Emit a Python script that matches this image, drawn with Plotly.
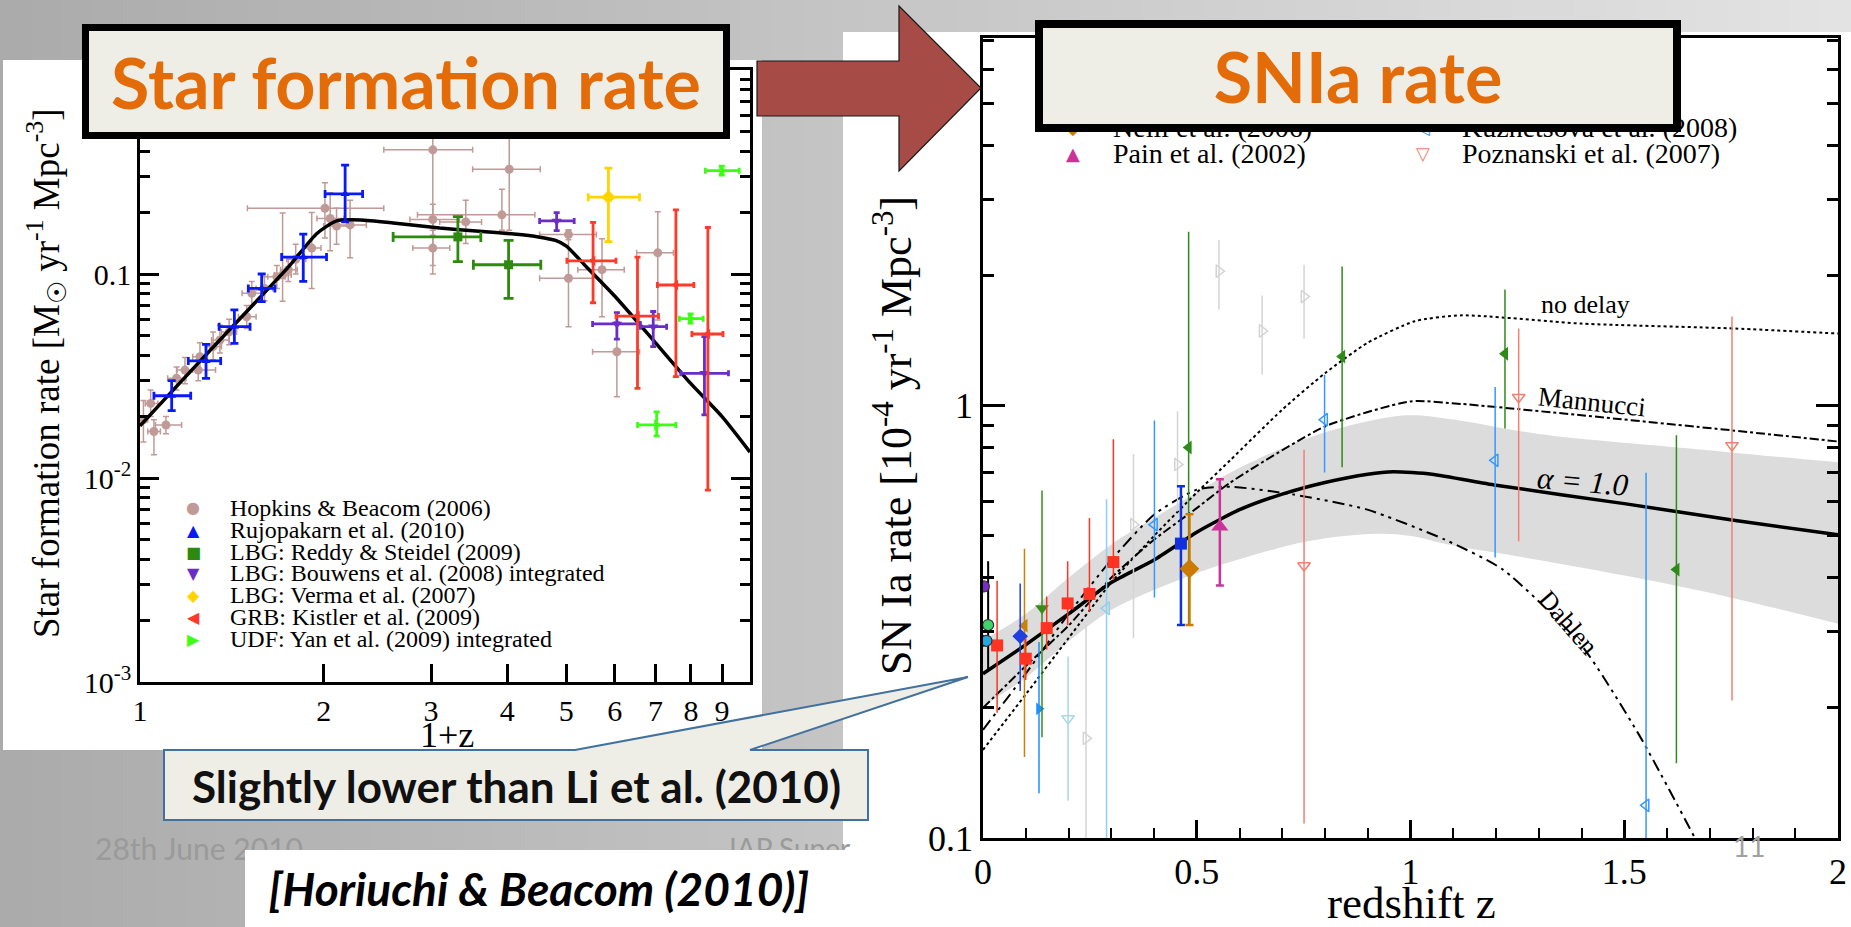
import numpy as np
import plotly.graph_objects as go

W, H = 1851, 927
SERIF = "Liberation Serif"
SANS = "Lato"

# ---------------- LEFT PANEL : cosmic star formation rate vs 1+z ----------------
sfr_fit_1pz = [1.0, 1.25, 1.5, 1.75, 1.95, 2.1, 2.3, 2.6, 3.1, 3.6, 4.1, 4.5, 4.8, 5.0, 5.4, 6.0, 7.0, 8.0, 9.0, 10.0]
sfr_fit_rho = [0.018, 0.037, 0.066, 0.108, 0.158, 0.182, 0.184, 0.178, 0.168, 0.162, 0.157, 0.152, 0.146, 0.137, 0.108, 0.078, 0.046, 0.029, 0.020, 0.0134]

hb_1pz = [1.013, 1.054, 1.103, 1.041, 1.148, 1.185, 1.246, 1.254, 1.318, 1.352, 1.40, 1.496, 1.525, 1.60, 1.676, 1.713, 1.75, 1.80, 1.912, 2.01, 2.05, 2.10, 2.21, 3.02, 3.02, 3.02, 3.42, 3.92, 4.03, 5.04, 5.04, 5.72, 7.06, 6.05]
hb_rho = [0.0193, 0.0169, 0.0182, 0.0232, 0.0308, 0.0338, 0.0338, 0.0393, 0.0441, 0.0475, 0.052, 0.0617, 0.0804, 0.085, 0.097, 0.099, 0.105, 0.118, 0.134, 0.21, 0.187, 0.172, 0.174, 0.406, 0.185, 0.134, 0.180, 0.195, 0.326, 0.156, 0.0953, 0.105, 0.127, 0.0416]
hb_1pz_lo = [1.00, 1.03, 1.06, 1.02, 1.11, 1.15, 1.18, 1.22, 1.28, 1.31, 1.36, 1.45, 1.47, 1.55, 1.62, 1.66, 1.70, 1.74, 1.85, 1.50, 1.95, 2.00, 2.10, 2.51, 2.77, 2.80, 3.10, 2.85, 3.51, 4.52, 4.52, 5.22, 6.52, 5.52]
hb_1pz_hi = [1.03, 1.08, 1.17, 1.07, 1.19, 1.22, 1.33, 1.29, 1.36, 1.40, 1.44, 1.55, 1.60, 1.65, 1.73, 1.77, 1.81, 1.87, 1.98, 2.51, 2.16, 2.20, 2.35, 3.51, 3.34, 3.22, 3.63, 4.44, 4.53, 5.60, 5.52, 6.22, 7.49, 6.59]
hb_rho_lo = [0.0150, 0.0130, 0.0165, 0.020, 0.027, 0.029, 0.030, 0.034, 0.038, 0.041, 0.045, 0.054, 0.070, 0.074, 0.085, 0.0735, 0.092, 0.100, 0.085, 0.15, 0.13, 0.14, 0.12, 0.11, 0.155, 0.10, 0.141, 0.164, 0.164, 0.147, 0.0552, 0.0618, 0.0595, 0.025]
hb_rho_hi = [0.0240, 0.0193, 0.0200, 0.027, 0.035, 0.039, 0.038, 0.046, 0.052, 0.056, 0.060, 0.070, 0.092, 0.097, 0.110, 0.199, 0.12, 0.14, 0.20, 0.28, 0.25, 0.21, 0.23, 0.60, 0.22, 0.164, 0.23, 0.26, 0.50, 0.165, 0.164, 0.149, 0.202, 0.0584]

rujo_1pz = [1.127, 1.283, 1.428, 1.583, 1.852, 2.169]
rujo_rho = [0.0253, 0.0375, 0.0552, 0.085, 0.121, 0.247]
rujo_1pz_lo = [1.054, 1.200, 1.348, 1.505, 1.707, 2.011]
rujo_1pz_hi = [1.211, 1.356, 1.515, 1.664, 2.022, 2.317]
rujo_rho_lo = [0.0214, 0.0308, 0.0457, 0.0732, 0.092, 0.180]
rujo_rho_hi = [0.030, 0.0452, 0.0667, 0.100, 0.157, 0.342]

reddy_1pz = [3.32, 4.02]
reddy_rho = [0.152, 0.111]
reddy_1pz_lo = [2.60, 3.52]
reddy_1pz_hi = [3.62, 4.54]
reddy_rho_lo = [0.115, 0.076]
reddy_rho_hi = [0.191, 0.146]

bouwens_1pz = [4.82, 6.05, 6.94, 8.42]
bouwens_rho = [0.182, 0.0569, 0.0552, 0.0326]
bouwens_1pz_lo = [4.52, 5.52, 6.61, 7.70]
bouwens_1pz_hi = [5.15, 6.61, 7.30, 9.22]
bouwens_rho_lo = [0.163, 0.0479, 0.0441, 0.0204]
bouwens_rho_hi = [0.200, 0.0646, 0.0655, 0.0493]

verma_1pz = [5.86]
verma_rho = [0.238]
verma_1pz_lo = [5.43]
verma_1pz_hi = [6.59]
verma_rho_lo = [0.144]
verma_rho_hi = [0.330]

kistler_1pz = [5.53, 6.54, 7.56, 8.53]
kistler_rho = [0.116, 0.0622, 0.0883, 0.0508]
kistler_1pz_lo = [5.01, 6.03, 7.05, 8.03]
kistler_1pz_hi = [6.03, 7.08, 8.09, 9.03]
kistler_rho_lo = [0.0723, 0.0275, 0.0314, 0.00873]
kistler_rho_hi = [0.179, 0.121, 0.206, 0.169]

yan_1pz = [7.03, 7.99, 8.99]
yan_rho = [0.0182, 0.0604, 0.321]
yan_1pz_lo = [6.54, 7.66, 8.45]
yan_1pz_hi = [7.56, 8.38, 9.60]
yan_rho_lo = [0.0161, 0.0574, 0.305]
yan_rho_hi = [0.0211, 0.0637, 0.338]

left_legend_labels = ["Hopkins & Beacom (2006)", "Rujopakarn et al. (2010)", "LBG: Reddy & Steidel (2009)",
                      "LBG: Bouwens et al. (2008) integrated", "LBG: Verma et al. (2007)",
                      "GRB: Kistler et al. (2009)", "UDF: Yan et al. (2009) integrated"]

left_x_ticks = [1, 2, 3, 4, 5, 6, 7, 8, 9]
left_x_ticktext = ["1", "2", "3", "4", "5", "6", "7", "8", "9"]
left_y_ticks = [0.001, 0.01, 0.1]
left_y_ticktext = ["10<sup>-3</sup>", "10<sup>-2</sup>", "0.1"]

# ---------------- RIGHT PANEL : SN Ia rate vs redshift ----------------
alpha1_z = [0.0, 0.1, 0.2, 0.3, 0.4, 0.5, 0.6, 0.7, 0.8, 0.9, 0.96, 1.05, 1.2, 1.5, 1.76, 2.0]
alpha1_rate = [0.240, 0.280, 0.330, 0.390, 0.440, 0.510, 0.575, 0.625, 0.665, 0.695, 0.704, 0.695, 0.655, 0.594, 0.543, 0.503]
band_z = [0.0, 0.1, 0.2, 0.3, 0.4, 0.5, 0.578, 0.76, 0.92, 1.0, 1.1, 1.3, 1.67, 2.0]
band_upper = [0.287, 0.33, 0.40, 0.478, 0.55, 0.63, 0.70, 0.843, 0.93, 0.951, 0.93, 0.861, 0.794, 0.740]
band_lower = [0.202, 0.235, 0.285, 0.337, 0.375, 0.41, 0.435, 0.486, 0.506, 0.500, 0.475, 0.44, 0.375, 0.313]
nodelay_z = [0.0, 0.1, 0.2, 0.3, 0.4, 0.5, 0.578, 0.7, 0.8, 0.9, 1.01, 1.12, 1.4, 1.76, 2.0]
nodelay_rate = [0.160, 0.215, 0.29, 0.39, 0.50, 0.63, 0.748, 0.98, 1.19, 1.40, 1.57, 1.62, 1.55, 1.51, 1.47]
mannucci_z = [0.0, 0.1, 0.2, 0.3, 0.4, 0.5, 0.578, 0.8, 1.0, 1.12, 1.4, 1.75, 2.0]
mannucci_rate = [0.20, 0.25, 0.31, 0.40, 0.49, 0.58, 0.664, 0.896, 1.024, 1.01, 0.951, 0.878, 0.827]
dahlen_z = [0.0, 0.1, 0.2, 0.3, 0.4, 0.5, 0.578, 0.724, 0.897, 1.079, 1.216, 1.399, 1.535, 1.663]
dahlen_rate = [0.178, 0.24, 0.33, 0.44, 0.56, 0.64, 0.65, 0.624, 0.576, 0.491, 0.418, 0.280, 0.173, 0.101]

dilday_z = [0.033, 0.100, 0.149, 0.198, 0.249, 0.305]
dilday_rate = [0.279, 0.260, 0.306, 0.349, 0.367, 0.435]
dilday_lo = [0.195, 0.232, 0.273, 0.311, 0.334, 0.396]
dilday_hi = [0.394, 0.290, 0.362, 0.437, 0.550, 0.837]

dahlen08_z = [0.481, 0.840, 1.221, 1.622]
dahlen08_rate = [0.801, 1.30, 1.32, 0.418]
dahlen08_lo = [0.31, 0.721, 0.886, 0.149]
dahlen08_hi = [2.53, 2.10, 1.86, 0.855]

neill_z = [0.483]
neill_rate = [0.420]
neill_lo = [0.311]
neill_hi = [0.561]

kuz_z = [0.401, 0.799, 1.198, 1.551]
kuz_rate = [0.531, 0.929, 0.748, 0.119]
kuz_lo = [0.36, 0.701, 0.446, 0.08]
kuz_hi = [0.925, 1.18, 1.105, 0.70]

pain_z = [0.554]
pain_rate = [0.525]
pain_lo = [0.384]
pain_hi = [0.676]

pozn_z = [0.751, 1.253, 1.752]
pozn_rate = [0.427, 1.047, 0.810]
pozn_lo = [0.108, 0.486, 0.208]
pozn_hi = [0.791, 1.51, 1.61]

tonry_z = [0.241, 0.352, 0.455, 0.552, 0.653, 0.751]
tonry_rate = [0.170, 0.531, 0.732, 2.05, 1.49, 1.79]
tonry_lo = [0.08, 0.290, 0.57, 1.67, 1.18, 1.43]
tonry_hi = [0.311, 0.773, 0.972, 2.42, 1.80, 2.12]

blanc_z = [0.087]; blanc_rate = [0.293]; blanc_lo = [0.219]; blanc_hi = [0.388]
sullivan_z = [0.463]; sullivan_rate = [0.480]; sullivan_lo = [0.311]; sullivan_hi = [0.652]
madgwick_z = [0.097]; madgwick_rate = [0.310]; madgwick_lo = [0.154]; madgwick_hi = [0.467]
botticella_z = [0.138]; botticella_rate = [0.340]; botticella_lo = [0.171]; botticella_hi = [0.637]
hardin_z = [0.131]; hardin_rate = [0.199]; hardin_lo = [0.127]; hardin_hi = [0.284]
horesh_z = [0.199]; horesh_rate = [0.189]; horesh_lo = [0.122]; horesh_hi = [0.263]
kuzlow_z = [0.289]; kuzlow_rate = [0.340]; kuzlow_lo = [0.08]; kuzlow_hi = [0.608]
local_z = [0.002, 0.012, 0.0, 0.008]
local_rate = [0.382, 0.311, 0.286, 0.286]
local_colors = ["#7B2CC4", "#3FD46A", "#22A8DE", "#22A8DE"]
local_lo = [0.382, 0.245, 0.286, 0.286]
local_hi = [0.382, 0.437, 0.286, 0.286]

# legend rows visible below the title box
right_legend = [("◆", "#CC7A00", "Neill et al. (2006)"), ("◁", "#3399FF", "Kuznetsova et al. (2008)"),
                ("▲", "#CC3399", "Pain et al. (2002)"), ("▽", "#F08070", "Poznanski et al. (2007)")]

right_x_ticks = [0, 0.5, 1, 1.5, 2]
right_x_ticktext = ["0", "0.5", "1", "1.5", "2"]
right_y_ticks = [0.1, 1]
right_y_ticktext = ["0.1", "1"]
right_y_minor = [0.2, 0.3, 0.4, 0.5, 0.6, 0.7, 0.8, 0.9, 2, 3, 4, 5, 6, 7]


def px(x):
    return x / W


def py(y):
    return 1 - y / H


def path(points):
    return "M " + " L ".join(f"{px(x):.5f},{py(y):.5f}" for x, y in points) + " Z"


fig = go.Figure()


def diff(a, b):
    return [abs(x - y) for x, y in zip(a, b)]


def left_series(x, y, xlo, xhi, ylo, yhi, color, symbol, size, thick, cap, name):
    fig.add_trace(go.Scatter(
        x=x, y=y, mode="markers", name=name, xaxis="x", yaxis="y",
        marker=dict(symbol=symbol, size=size, color=color, line=dict(width=0)),
        error_x=dict(type="data", symmetric=False, array=diff(xhi, x), arrayminus=diff(x, xlo),
                     color=color, thickness=thick, width=cap),
        error_y=dict(type="data", symmetric=False, array=diff(yhi, y), arrayminus=diff(y, ylo),
                     color=color, thickness=thick, width=cap)))


left_series(hb_1pz, hb_rho, hb_1pz_lo, hb_1pz_hi, hb_rho_lo, hb_rho_hi, "#BF9A96", "circle", 9, 1.5, 3, left_legend_labels[0])
fig.add_trace(go.Scatter(x=sfr_fit_1pz, y=sfr_fit_rho, mode="lines", xaxis="x", yaxis="y",
                         line=dict(color="black", width=3.5, shape="spline", smoothing=0.6), name="fit"))
left_series(rujo_1pz, rujo_rho, rujo_1pz_lo, rujo_1pz_hi, rujo_rho_lo, rujo_rho_hi, "#0A1AF5", "triangle-up", 8, 2.8, 4, left_legend_labels[1])
left_series(reddy_1pz, reddy_rho, reddy_1pz_lo, reddy_1pz_hi, reddy_rho_lo, reddy_rho_hi, "#2E8A0E", "square", 9, 2.8, 5, left_legend_labels[2])
left_series(bouwens_1pz, bouwens_rho, bouwens_1pz_lo, bouwens_1pz_hi, bouwens_rho_lo, bouwens_rho_hi, "#6B2DC8", "triangle-down", 9, 2.8, 3, left_legend_labels[3])
left_series(verma_1pz, verma_rho, verma_1pz_lo, verma_1pz_hi, verma_rho_lo, verma_rho_hi, "#FFD400", "diamond", 11, 2.8, 4, left_legend_labels[4])
left_series(kistler_1pz, kistler_rho, kistler_1pz_lo, kistler_1pz_hi, kistler_rho_lo, kistler_rho_hi, "#FF3A2A", "triangle-left", 9, 2.8, 3, left_legend_labels[5])
left_series(yan_1pz, yan_rho, yan_1pz_lo, yan_1pz_hi, yan_rho_lo, yan_rho_hi, "#3CFF14", "triangle-right", 10, 2.8, 3, left_legend_labels[6])

# ---- right panel ----
fig.add_trace(go.Scatter(x=band_z, y=band_lower, mode="lines", line=dict(width=0, color="#DCDCDC", shape="spline"),
                         xaxis="x2", yaxis="y2", hoverinfo="skip"))
fig.add_trace(go.Scatter(x=band_z, y=band_upper, mode="lines", line=dict(width=0, color="#DCDCDC", shape="spline"),
                         fill="tonexty", fillcolor="#DCDCDC", xaxis="x2", yaxis="y2", hoverinfo="skip"))
fig.add_trace(go.Scatter(x=nodelay_z, y=nodelay_rate, mode="lines",
                         line=dict(color="black", width=2, dash="dot", shape="spline", smoothing=0.6),
                         xaxis="x2", yaxis="y2", name="no delay"))
fig.add_trace(go.Scatter(x=mannucci_z, y=mannucci_rate, mode="lines",
                         line=dict(color="black", width=2, dash="dashdot", shape="spline", smoothing=0.6),
                         xaxis="x2", yaxis="y2", name="Mannucci"))
fig.add_trace(go.Scatter(x=dahlen_z, y=dahlen_rate, mode="lines",
                         line=dict(color="black", width=2, dash="12px,5px,3px,5px,3px,5px", shape="spline", smoothing=0.6),
                         xaxis="x2", yaxis="y2", name="Dahlen"))
fig.add_trace(go.Scatter(x=alpha1_z, y=alpha1_rate, mode="lines",
                         line=dict(color="black", width=3.5, shape="spline", smoothing=0.6),
                         xaxis="x2", yaxis="y2", name="alpha=1.0"))


def right_series(x, y, lo, hi, color, symbol, size, thick=1.5, cap=0, name="", mline=0):
    fig.add_trace(go.Scatter(
        x=x, y=y, mode="markers", name=name, xaxis="x2", yaxis="y2",
        marker=dict(symbol=symbol, size=size, color=color, line=dict(width=mline, color=color)),
        error_y=dict(type="data", symmetric=False, array=diff(hi, y), arrayminus=diff(y, lo),
                     color=color, thickness=thick, width=cap)))


right_series(tonry_z, tonry_rate, tonry_lo, tonry_hi, "#D4D4D4", "triangle-right-open", 11, name="Tonry / Barris", mline=1.5)
right_series(kuzlow_z, kuzlow_rate, kuzlow_lo, kuzlow_hi, "#8FCFF0", "triangle-left-open", 11, name="low-z", mline=1.5)
right_series(horesh_z, horesh_rate, horesh_lo, horesh_hi, "#A9D8E4", "triangle-down-open", 11, name="Horesh", mline=1.5)
right_series(pozn_z, pozn_rate, pozn_lo, pozn_hi, "#F08070", "triangle-down-open", 11, name="Poznanski et al. (2007)", mline=1.5)
right_series(kuz_z, kuz_rate, kuz_lo, kuz_hi, "#3399FF", "triangle-left-open", 11, name="Kuznetsova et al. (2008)", mline=1.5)
right_series(dahlen08_z, dahlen08_rate, dahlen08_lo, dahlen08_hi, "#2E8B1A", "triangle-left", 12, name="Dahlen et al. (2008)")
right_series(hardin_z, hardin_rate, hardin_lo, hardin_hi, "#1E8FFF", "triangle-right", 11, name="Hardin")
right_series(botticella_z, botticella_rate, botticella_lo, botticella_hi, "#3A8C1A", "triangle-down", 12, name="Botticella")
right_series(madgwick_z, madgwick_rate, madgwick_lo, madgwick_hi, "#C8820A", "triangle-left", 12, name="Madgwick")
right_series(blanc_z, blanc_rate, blanc_lo, blanc_hi, "#1F3FE0", "diamond", 12, name="Blanc")
right_series(dilday_z, dilday_rate, dilday_lo, dilday_hi, "#FF3322", "square", 12, name="Dilday et al. (2010)")
right_series(sullivan_z, sullivan_rate, sullivan_lo, sullivan_hi, "#1030E0", "square", 12, thick=2.5, cap=4, name="Sullivan")
right_series(neill_z, neill_rate, neill_lo, neill_hi, "#CC7A00", "diamond", 15, thick=2.5, cap=4, name="Neill et al. (2006)")
right_series(pain_z, pain_rate, pain_lo, pain_hi, "#CC3399", "triangle-up", 15, thick=2.5, cap=4, name="Pain et al. (2002)")
fig.add_trace(go.Scatter(
    x=local_z, y=local_rate, mode="markers", xaxis="x2", yaxis="y2", name="local",
    marker=dict(symbol="circle", size=11, color=local_colors, line=dict(width=1.2, color="#333333")),
    error_y=dict(type="data", symmetric=False, array=diff(local_hi, local_rate), arrayminus=diff(local_rate, local_lo),
                 color="black", thickness=2, width=0)))

# ---------------- layout ----------------
annotations = []


def ann(x, y, text, size, color="black", family=SERIF, xanchor="center", yanchor="middle", angle=0, **kw):
    d = dict(x=px(x), y=py(y), xref="paper", yref="paper", text=text, showarrow=False,
             font=dict(size=size, color=color, family=family), xanchor=xanchor, yanchor=yanchor,
             textangle=angle)
    d.update(kw)
    annotations.append(d)


# axis titles
ann(46, 373, "Star formation rate [M<sub>☉</sub> yr<sup>-1</sup> Mpc<sup>-3</sup>]", 37, angle=-90)
ann(447, 735, "1+z", 36)
ann(893, 436, "SN Ia rate [10<sup>-4</sup> yr<sup>-1</sup> Mpc<sup>-3</sup>]", 44, angle=-90)
ann(1411, 903, "redshift z", 45)

# curve labels
ann(1585, 304, "no delay", 26)
ann(1592, 402, "Mannucci", 27, angle=6)
ann(1583, 481, "<i>α = 1.0</i>", 31, angle=5)
ann(1568, 622, "Dahlen", 26, angle=49)

# left legend
left_sym = [("●", "#BF9A96"), ("▲", "#0A1AF5"), ("■", "#2E8A0E"), ("▼", "#6B2DC8"),
            ("◆", "#FFD400"), ("◀", "#FF3A2A"), ("▶", "#3CFF14")]
row_y = [508, 530, 552, 573, 595, 617, 639]
for (s, c), lab, yy in zip(left_sym, left_legend_labels, row_y):
    ann(193, yy, s, 16, color=c, family="DejaVu Sans")
    ann(228, yy, lab, 24, xanchor="left")

# right legend (upper row partly hidden under the title box)
r_rows = [128, 153]
for i, (s, c, lab) in enumerate(right_legend):
    r, col = divmod(i, 2)
    ann([1073, 1423][col], r_rows[r], s, 18, color=c, family="DejaVu Sans")
    ann([1111, 1460][col], r_rows[r], lab, 28, xanchor="left")

# footers
ann(93, 848, "28th June 2010", 30, color="#9A9A9A", family=SANS, xanchor="left")
ann(727, 848, "IAP Super", 28, color="#9A9A9A", family=SANS, xanchor="left")
ann(1749, 846, "11", 28, color="#A0A0A0", family=SANS)

# reference box (white box that also hides the end of the footer date)
ann(546, 888.5, "\u00a0\u00a0<b><i>[Horiuchi &amp; Beacom (2010)]</i></b>", 46, family=SANS,
    bgcolor="white", width=602, height=77, borderwidth=0, borderpad=0, align="left")

# callout text
ann(516, 786, "<b>Slightly lower than Li et al. (2010)</b>", 44, color="#111111", family=SANS)

# title boxes
ann(406, 81.5, "<b>Star formation rate</b>", 70, color="#E36C09", family=SANS,
    bgcolor="#EEEEE6", bordercolor="black", borderwidth=7, borderpad=0, width=634, height=101)
ann(1358, 76, "<b>SNIa rate</b>", 70, color="#E36C09", family=SANS,
    bgcolor="#EEEEE6", bordercolor="black", borderwidth=8, borderpad=0, width=630, height=96)

shapes = []
# slide background: soft horizontal grey gradient
n_strips = 60
g0, g1 = 0xAB, 0xE3
for i in range(n_strips):
    g = int(round(g0 + (g1 - g0) * i / (n_strips - 1)))
    col = f"#{g:02X}{g:02X}{g:02X}"
    shapes.append(dict(type="rect", xref="paper", yref="paper", x0=i / n_strips, x1=(i + 1) / n_strips + 0.002,
                       y0=0, y1=1, fillcolor=col, line=dict(width=0), layer="below"))
# white panels
shapes.append(dict(type="rect", xref="paper", yref="paper", x0=px(3), x1=px(762), y0=py(750), y1=py(60),
                   fillcolor="white", line=dict(width=0), layer="below"))
shapes.append(dict(type="rect", xref="paper", yref="paper", x0=px(843), x1=1.0, y0=0, y1=py(32),
                   fillcolor="white", line=dict(width=0), layer="below"))
# arrow
shapes.append(dict(type="path", xref="paper", yref="paper",
                   path=path([(757, 61), (899, 61), (899, 6), (981, 88), (899, 171), (899, 116), (757, 116)]),
                   fillcolor="#A64B45", line=dict(color="#1A1A1A", width=1.2), layer="above"))
# callout
shapes.append(dict(type="path", xref="paper", yref="paper",
                   path=path([(164, 750), (575, 750), (968, 677), (750, 750), (868, 750), (868, 820), (164, 820)]),
                   fillcolor="#EEEEE6", line=dict(color="#41719C", width=2), layer="above"))

axis_common = dict(showgrid=False, zeroline=False, showline=True, linecolor="black", linewidth=2.5,
                   ticks="inside", tickcolor="black", tickwidth=2.5, automargin=False)

left_y_minor = [k * 10.0 ** e for e in (-3, -2, -1) for k in range(2, 10)]

fig.update_layout(
    autosize=True, margin=dict(l=0, r=0, t=0, b=0, pad=0, autoexpand=False),
    paper_bgcolor="#C4C4C4", plot_bgcolor="rgba(0,0,0,0)", showlegend=False,
    font=dict(family=SERIF, color="black"),
    xaxis=dict(**axis_common, type="log", range=[0, 1], domain=[px(140), px(750)], anchor="y",
               tickvals=left_x_ticks, ticktext=left_x_ticktext, ticklen=18, mirror="allticks",
               tickfont=dict(size=30, family=SERIF)),
    yaxis=dict(**axis_common, type="log", range=[-3, 0], domain=[py(682), py(70)], anchor="x",
               tickvals=left_y_ticks, ticktext=left_y_ticktext, ticklen=19, mirror="allticks",
               tickfont=dict(size=30, family=SERIF),
               minor=dict(tickvals=left_y_minor, ticklen=10, ticks="inside", tickcolor="black", tickwidth=2.5)),
    xaxis2=dict(**axis_common, range=[0, 2], domain=[px(983), px(1838)], anchor="y2",
                tickvals=right_x_ticks, ticktext=right_x_ticktext, ticklen=18, mirror=True,
                tickfont=dict(size=36, family=SERIF),
                minor=dict(dtick=0.1, ticklen=10, ticks="inside", tickcolor="black", tickwidth=2)),
    yaxis2=dict(**axis_common, type="log", range=[-1, np.log10(7.1)], domain=[py(838), py(38)], anchor="x2",
                tickvals=right_y_ticks, ticktext=right_y_ticktext, ticklen=22, mirror="allticks",
                tickfont=dict(size=36, family=SERIF),
                minor=dict(tickvals=right_y_minor, ticklen=11, ticks="inside", tickcolor="black", tickwidth=2.5)),
    annotations=annotations, shapes=shapes,
)

fig.write_html(
    "out.html",
    config={"displayModeBar": False},
    default_width="100vw",
    default_height="100vh",
    post_script=("document.documentElement.style.margin='0';document.documentElement.style.padding='0';"
                 "document.body.style.margin='0';document.body.style.padding='0';"
                 "document.documentElement.style.overflow='hidden';document.body.style.overflow='hidden';"),
)
